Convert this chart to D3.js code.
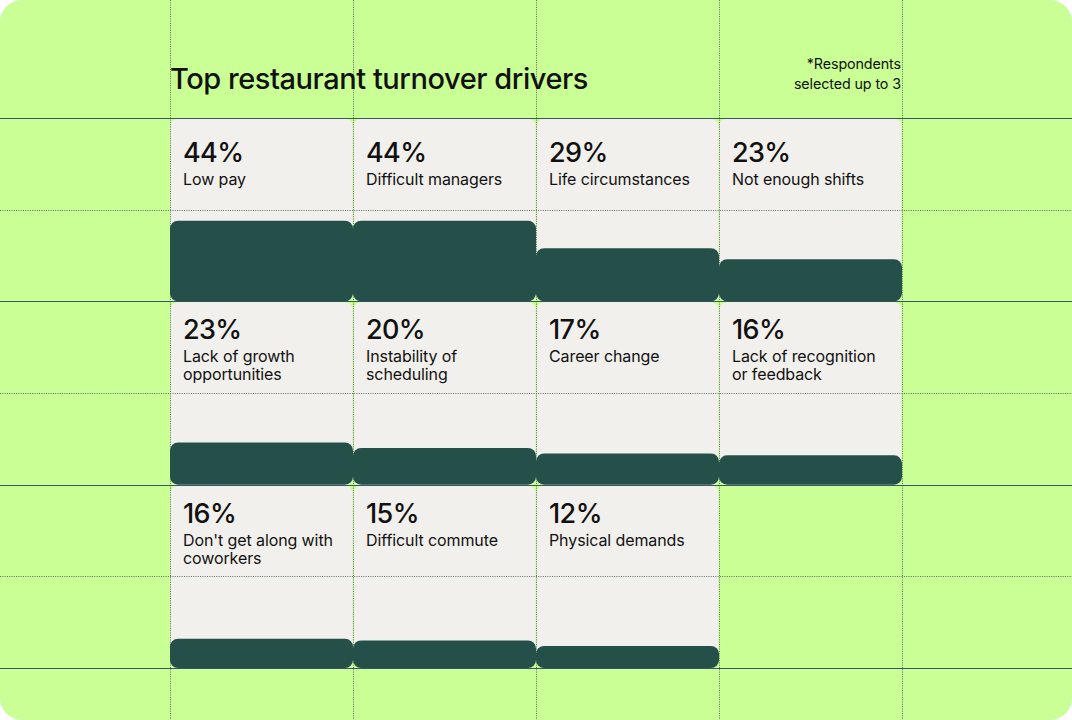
<!DOCTYPE html>
<html>
<head>
<meta charset="utf-8">
<script src="https://cdn.jsdelivr.net/npm/d3@7"></script>
<style>
  html, body { margin: 0; padding: 0; background: #ffffff; }
  svg { display: block; font-family: Inter, 'Noto Sans', sans-serif; }
</style>
</head>
<body>
<svg id="chart" width="1072" height="720"></svg>
<script>
const title = 'Top restaurant turnover drivers';
const footnote = ['*Respondents', 'selected up to 3'];

const drivers = [
  ['Low pay'],
  ['Difficult managers'],
  ['Life circumstances'],
  ['Not enough shifts'],
  ['Lack of growth', 'opportunities'],
  ['Instability of', 'scheduling'],
  ['Career change'],
  ['Lack of recognition', 'or feedback'],
  ["Don't get along with", 'coworkers'],
  ['Difficult commute'],
  ['Physical demands']
];
const shares = [44, 44, 29, 23, 23, 20, 17, 16, 16, 15, 12];

const W = 1072, H = 720;
const cols = 4, rows = 3;
const colors = {
  bg: '#c9ff94',
  card: '#f1f0ec',
  bar: '#25504a',
  rule: '#2b4262',
  dots: '#5a6e66',
  text: '#111111'
};
// first row of text sits a little lower than the others in the original
const textTop = [44, 38, 38];

const svg = d3.select('#chart');

const data = shares.map((v, i) => ({
  value: v,
  lines: drivers[i],
  col: i % cols,
  row: Math.floor(i / cols)
}));

const x = d3.scaleBand().domain(d3.range(cols)).range([170, 902]).paddingInner(0);
const y = d3.scaleBand().domain(d3.range(rows)).range([118, 668]).paddingInner(0);
const h = d3.scaleLinear().domain([0, 100]).range([0, y.bandwidth()]);

// page background with rounded corners
svg.append('rect')
  .attr('width', W).attr('height', H)
  .attr('rx', 22)
  .attr('fill', colors.bg);

// cards
svg.append('g')
  .selectAll('rect')
  .data(data)
  .join('rect')
  .attr('x', (d) => x(d.col) + 0.5)
  .attr('y', (d) => y(d.row) + 1)
  .attr('width', x.bandwidth() - 1)
  .attr('height', y.bandwidth() - 1)
  .attr('rx', 7)
  .attr('fill', colors.card);

// dotted grid: column edges and row middles
const colEdges = d3.range(cols + 1).map((i) => (i < cols ? x(i) : x(cols - 1) + x.bandwidth()));
const rowMids = d3.range(rows).map((r) => y(r) + y.bandwidth() / 2);
const rowEdges = d3.range(rows + 1).map((i) => (i < rows ? y(i) : y(rows - 1) + y.bandwidth()));

const grid = svg.append('g')
  .attr('stroke', colors.dots)
  .attr('stroke-width', 1)
  .attr('stroke-dasharray', '1 1.3')
  .attr('fill', 'none');

grid.selectAll('.v')
  .data(colEdges)
  .join('line')
  .attr('class', 'v')
  .attr('x1', (d) => Math.round(d) + 0.5).attr('x2', (d) => Math.round(d) + 0.5)
  .attr('y1', 0).attr('y2', H);

grid.selectAll('.h')
  .data(rowMids)
  .join('line')
  .attr('class', 'h')
  .attr('y1', (d) => Math.round(d) + 0.5).attr('y2', (d) => Math.round(d) + 0.5)
  .attr('x1', 0).attr('x2', W);

// bars sit on the bottom edge of each cell
svg.append('g')
  .selectAll('rect')
  .data(data)
  .join('rect')
  .attr('x', (d) => x(d.col))
  .attr('y', (d) => y(d.row) + y.bandwidth() - h(d.value))
  .attr('width', x.bandwidth())
  .attr('height', (d) => h(d.value))
  .attr('rx', 8)
  .attr('fill', colors.bar);

// solid row rules
svg.append('g')
  .selectAll('line')
  .data(rowEdges)
  .join('line')
  .attr('x1', 0).attr('x2', W)
  .attr('y1', (d) => Math.round(d) + 0.5).attr('y2', (d) => Math.round(d) + 0.5)
  .attr('stroke', colors.rule)
  .attr('stroke-opacity', 0.9)
  .attr('stroke-width', 1);

// cell texts
const cells = svg.append('g')
  .selectAll('g')
  .data(data)
  .join('g')
  .attr('transform', (d) => `translate(${x(d.col) + 13},${y(d.row) + textTop[d.row]})`);

cells.append('text')
  .attr('font-size', 27)
  .attr('font-weight', 500)
  .attr('letter-spacing', -0.6)
  .attr('fill', colors.text)
  .text((d) => `${d.value}%`);

cells.append('text')
  .attr('font-size', 16)
  .attr('letter-spacing', -0.1)
  .attr('fill', colors.text)
  .selectAll('tspan')
  .data((d) => d.lines)
  .join('tspan')
  .attr('x', 0)
  .attr('y', (_, i) => 23 + i * 18)
  .text((d) => d);

// title and footnote
svg.append('text')
  .attr('x', 170)
  .attr('y', 89)
  .attr('font-size', 29)
  .attr('font-weight', 500)
  .attr('letter-spacing', -0.45)
  .attr('fill', colors.text)
  .text(title);

svg.append('text')
  .attr('text-anchor', 'end')
  .attr('font-size', 14.3)
  .attr('letter-spacing', -0.1)
  .attr('fill', colors.text)
  .selectAll('tspan')
  .data(footnote)
  .join('tspan')
  .attr('x', 901)
  .attr('y', (_, i) => 69 + i * 20)
  .text((d) => d);
</script>
</body>
</html>
